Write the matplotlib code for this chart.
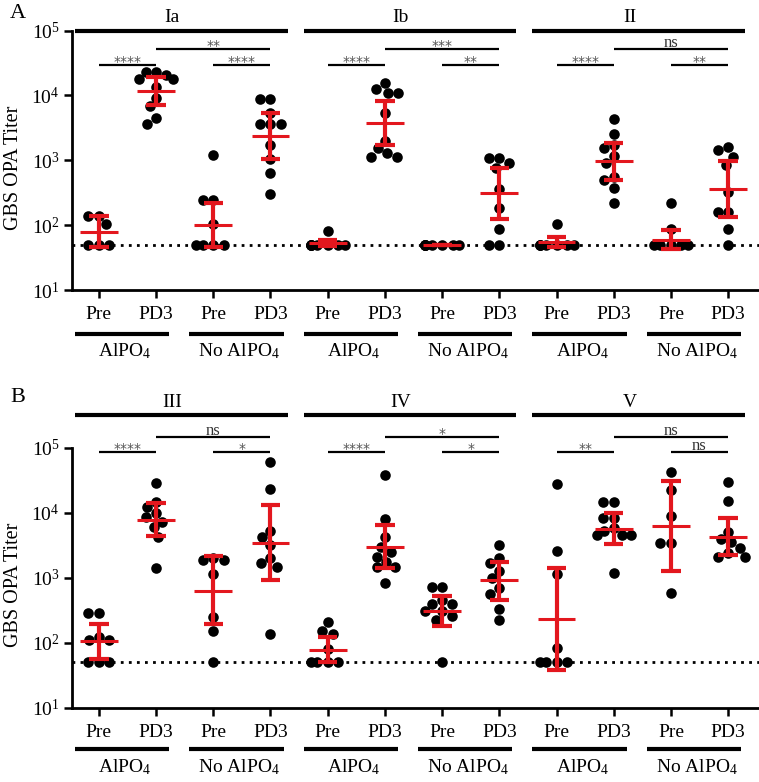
import numpy as np
import matplotlib
matplotlib.use('Agg')
import matplotlib.pyplot as plt
import matplotlib.transforms as mtransforms

plt.rcParams['font.family'] = ['Liberation Serif', 'DejaVu Serif']
plt.rcParams['mathtext.fontset'] = 'custom'
plt.rcParams['mathtext.rm'] = 'Liberation Serif'
plt.rcParams['mathtext.it'] = 'Liberation Serif:italic'
plt.rcParams['mathtext.bf'] = 'Liberation Serif:bold'

# ---- data ----
timepoints = ['Pre', 'PD3'] * 6
groups = ['AlPO$_4$', 'No AlPO$_4$']
serotypes_a = ['Ia', 'Ib', 'II']
serotypes_b = ['III', 'IV', 'V']

# each serotype: Pre AlPO4, PD3 AlPO4, Pre No AlPO4, PD3 No AlPO4
ia = [[138, 138, 104, 50, 50, 50],
      [23100, 23100, 20600, 17800, 17800, 13400, 9200, 6850, 4470, 3610],
      [1200, 244, 244, 104, 50, 50, 50, 50],
      [8680, 8680, 5400, 3610, 3610, 3610, 1715, 1030, 628, 298]]
ib = [[82, 50, 50, 50, 50, 50, 50, 50, 50],
      [15300, 12400, 10700, 10700, 5280, 1980, 1520, 1275, 1130, 1130],
      [50, 50, 50, 50, 50, 50, 50, 50, 50],
      [1070, 1070, 916, 750, 356, 185, 86, 50, 50]]
ii = [[104, 50, 50, 50, 50, 50, 50, 50],
      [4360, 2530, 1715, 1525, 1160, 896, 557, 495, 369, 217],
      [217, 86, 50, 50, 50, 50, 50],
      [1580, 1435, 1130, 843, 327, 161, 161, 86, 50]]
iii = [[283, 283, 120, 110, 110, 50, 50, 50],
       [28500, 14600, 12200, 9680, 8410, 7210, 5900, 4240, 1390],
       [1977, 1862, 1862, 1135, 243, 152, 50],
       [60000, 23400, 5240, 4150, 3160, 1977, 1656, 1470, 136]]
iv = [[204, 148, 135, 79, 50, 50, 50, 50],
      [37500, 7840, 4150, 2920, 2500, 2094, 1755, 1440, 1440, 835],
      [710, 710, 453, 394, 394, 300, 300, 260, 224, 50],
      [3160, 1977, 1693, 1276, 975, 685, 560, 327, 224]]
v = [[27000, 2560, 1120, 82, 50, 50, 50, 50],
     [14600, 14600, 8300, 8300, 5700, 5200, 4500, 4500, 4500, 1164],
     [42100, 22100, 8800, 3430, 3430, 587],
     [29600, 14960, 5060, 3865, 3556, 2813, 2355, 2047, 2047]]

# geometric mean and 95% CI
gmean_a = [79, 11700, 100, 2400, 53, 3700, 50, 310, 54, 980, 60, 360]
lo_a = [46, 7100, 46, 1060, 47, 1700, 50, 124, 46, 495, 43, 132]
hi_a = [137, 18900, 221, 5300, 59, 8200, 50, 770, 65, 1860, 84, 980]
gmean_b = [104, 7800, 630, 3430, 76, 2980, 307, 900, 229, 5560, 6200, 4250]
lo_b = [56, 4350, 192, 920, 51, 1390, 177, 453, 38, 3280, 1260, 2220]
hi_b = [192, 14100, 2150, 13000, 120, 6400, 522, 1750, 1390, 9700, 30600, 8100]

# (Pre vs PD3 AlPO4, PD3 AlPO4 vs PD3 No AlPO4, Pre vs PD3 No AlPO4)
sig_a = [('****', '**', '****'), ('****', '***', '**'), ('****', 'ns', '**')]
sig_b = [('****', 'ns', '*'), ('****', '*', '*'), ('**', 'ns', 'ns')]

LOD = 50
RED = '#e3171e'
PX_X = 57.2   # pixels per x unit
PX_DEC = 65.0  # pixels per decade


def swarm(vals, center, d=10.5, lim=17):
    ys = np.log10(vals) * PX_DEC
    xs = np.zeros(len(vals))
    placed = []
    for i in np.argsort(-ys, kind='stable'):
        y = ys[i]
        cands = [0.0]
        for xj, yj in placed:
            dy = abs(y - yj)
            if dy < d:
                dx = np.sqrt(d * d - dy * dy)
                cands += [xj - dx, xj + dx]
        cands.sort(key=abs)
        pos = cands[-1]
        for c in cands:
            if all((c - xj) ** 2 + (y - yj) ** 2 >= d * d - 1e-6 for xj, yj in placed):
                pos = c
                break
        pos = float(np.clip(pos, -lim, lim))
        xs[i] = pos
        placed.append((pos, y))
    return center + xs / PX_X


def panel(ax, sets, names, gm, lo, hi, sigs, head_y, sig_y, under_y, glab_y):
    trans = mtransforms.blended_transform_factory(ax.transData, ax.transAxes)
    ax.set_yscale('log')
    ax.set_ylim(10, 1e5)
    ax.set_xlim(-0.47, 11.54)
    ax.axhline(LOD, color='black', lw=2, linestyle=(0, (1, 1.9)), zorder=1)

    k = 0
    for s in sets:
        for vals in s:
            xs = swarm(vals, k)
            ax.scatter(xs, vals, s=58, color='black', linewidths=0, zorder=3, clip_on=False)
            ax.hlines(gm[k], k - 0.33, k + 0.33, color=RED, lw=2.2, zorder=4)
            ax.vlines(k, lo[k], hi[k], color=RED, lw=3, zorder=4)
            ax.hlines([lo[k], hi[k]], k - 0.17, k + 0.17, color=RED, lw=3, zorder=4)
            k += 1

    for g, name in enumerate(names):
        b = g * 4
        ax.plot([b - 0.42, b + 3.3], [head_y, head_y], transform=trans, color='black',
                lw=3, clip_on=False, solid_capstyle='butt')
        ax.text(b + 1.28, head_y + 0.05, name, transform=trans, ha='center',
                va='center', fontsize=14)
        pairs = [(b, b + 1, sig_y[0]), (b + 1, b + 3, sig_y[1]), (b + 2, b + 3, sig_y[0])]
        for (x0, x1, yy), lab in zip(pairs, sigs[g]):
            ax.plot([x0, x1], [yy, yy], transform=trans, color='black', lw=1.6,
                    clip_on=False, solid_capstyle='butt')
            if lab == 'ns':
                ax.annotate(lab, ((x0 + x1) / 2, yy), xycoords=trans, xytext=(0, 1.5),
                            textcoords='offset points', ha='center', va='baseline',
                            fontsize=12, color='#333333')
            else:
                ax.annotate(lab, ((x0 + x1) / 2, yy), xycoords=trans, xytext=(0, -0.5),
                            textcoords='offset points', ha='center', va='baseline',
                            fontsize=10, color='#555555', family='DejaVu Sans')

    for p in range(6):
        x0 = p * 2
        ax.plot([x0 - 0.42, x0 + 1.23], [under_y, under_y], transform=trans,
                color='black', lw=3, clip_on=False, solid_capstyle='butt')
        ax.text(x0 + 0.45, glab_y, groups[p % 2], transform=trans, ha='center',
                va='center', fontsize=14)

    ax.set_xticks(range(12))
    ax.set_xticklabels(timepoints, fontsize=14)
    ax.set_yticks([10, 100, 1000, 10000, 100000])
    ax.set_yticklabels(['$10^{1}$', '$10^{2}$', '$10^{3}$', '$10^{4}$', '$10^{5}$'], fontsize=14)
    ax.minorticks_off()
    ax.tick_params(axis='both', direction='out', length=5.8, width=1.8)
    ax.tick_params(axis='x', pad=6)
    ax.tick_params(axis='y', pad=3)
    for sp in ['top', 'right']:
        ax.spines[sp].set_visible(False)
    for sp in ['left', 'bottom']:
        ax.spines[sp].set_linewidth(2)
    ax.set_ylabel('GBS OPA Titer', fontsize=14.5)
    ax.yaxis.set_label_coords(-0.072, 0.47)


fig = plt.figure(figsize=(7.59, 7.82), dpi=100)
ax_a = fig.add_axes([72 / 759, 1 - 290 / 782, 687 / 759, 259.5 / 782])
ax_b = fig.add_axes([72 / 759, 1 - 707.5 / 782, 687 / 759, 260 / 782])

panel(ax_a, [ia, ib, ii], serotypes_a, gmean_a, lo_a, hi_a, sig_a,
      1.0, (0.867, 0.929), -0.1696, -0.235)
panel(ax_b, [iii, iv, v], serotypes_b, gmean_b, lo_b, hi_b, sig_b,
      1.124, (0.982, 1.04), -0.160, -0.23)

fig.text(10 / 759, 1 - 14 / 782, 'A', fontsize=16, va='center')
fig.text(10 / 759, 1 - 397 / 782, 'B', fontsize=16, va='center')

fig.savefig('out.png', dpi=100)
